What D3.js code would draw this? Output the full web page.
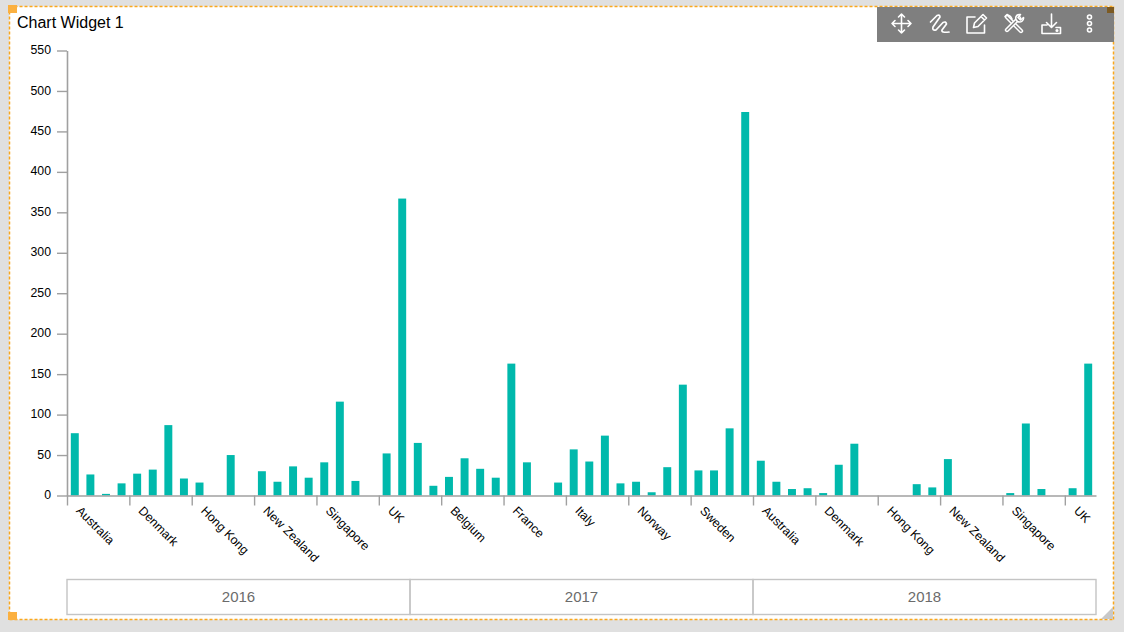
<!DOCTYPE html>
<html><head><meta charset="utf-8">
<script src="https://cdn.jsdelivr.net/npm/d3@7/dist/d3.min.js"></script>
<style>
html,body{margin:0;padding:0;background:#e0e0e0;overflow:hidden}
svg{display:block;font-family:"Liberation Sans",Arial,sans-serif}
</style></head><body>
<svg id="c" width="1124" height="632"></svg>
<script>
const categories=["Australia","Denmark","Hong Kong","New Zealand","Singapore","UK","Belgium","France","Italy","Norway","Sweden","Australia","Denmark","Hong Kong","New Zealand","Singapore","UK"];
const years=["2016","2017","2018"];
const values=[77,26,2,15, 27,32,87,21, 16,0,50,0, 30,17,36,22, 41,116,18,0, 52,367,65,12,
 23,46,33,22, 163,41,0,16, 57,42,74,15, 17,4,35,137, 31,31,83,474,
 43,17,8,9, 3,38,64,0, 0,0,14,10, 45,0,0,0, 3,89,8,0, 9,163];
const yTicks=d3.range(0,551,50);
const slotsPerCategory=4, slotsPerYear=22;
const teal="#00b9ac", axisGrey="#a0a0a0", orange="#fba71b";
const svg=d3.select("#c");
// widget
svg.append("rect").attr("x",9.5).attr("y",6.5).attr("width",1104).attr("height",613).attr("fill","#fff");
const b=svg.append("g").attr("fill","none").attr("stroke",orange).attr("stroke-width",1.5).attr("stroke-dasharray","3,2");
b.append("path").attr("d","M9.5 6.5H1113.5");
b.append("path").attr("d","M9.5 619.5H1113.5");
b.append("path").attr("d","M9.5 6.500V619.5");
b.append("path").attr("d","M1113.5 6.500V619.5");
svg.append("rect").attr("x",8).attr("y",5).attr("width",9).attr("height",8).attr("fill","#fbb040");
svg.append("rect").attr("x",8).attr("y",612).attr("width",9).attr("height",8).attr("fill","#fbb040");
svg.append("path").attr("d","M1113 607V619H1101Z").attr("fill","#c8c8c8");
svg.append("text").attr("x",17).attr("y",28).attr("font-size",16).attr("fill","#000").text("Chart Widget 1");

const x=d3.scaleLinear().domain([0,values.length]).range([67,1096]);
const y=d3.scaleLinear().domain([0,550]).range([495.5,50.5]);
const band=d3.scaleBand().domain(d3.range(values.length)).range([67,1096]).paddingInner(.49).paddingOuter(.245);

svg.append("g").selectAll("rect").data(values).join("rect")
 .attr("x",(d,i)=>band(i)).attr("width",band.bandwidth())
 .attr("y",d=>y(d)).attr("height",d=>y(0)-y(d)).attr("fill",teal);

const ya=svg.append("g").attr("transform","translate(67,0)")
 .call(d3.axisLeft(y).tickValues(yTicks).tickSize(10).tickPadding(6).tickSizeOuter(0));
ya.selectAll("text").attr("font-size",12.3).attr("font-family","inherit").attr("fill","#000").attr("dy","0.25em");
ya.selectAll(".tick line").attr("stroke",axisGrey).attr("stroke-width",1.4);
ya.select(".domain").attr("stroke",axisGrey).attr("stroke-width",1.6);

const xTicks=categories.map((c,i)=>i*slotsPerCategory);
const xa=svg.append("g").attr("transform","translate(0,495.5)")
 .call(d3.axisBottom(x).tickValues(xTicks).tickSize(10).tickSizeOuter(0).tickFormat((d,i)=>categories[i]));
xa.selectAll(".tick text").attr("font-size",12.3).attr("font-family","inherit").attr("fill","#000")
 .attr("text-anchor","start").attr("x",0).attr("y",0).attr("dy",0)
 .attr("transform","translate(8,16) rotate(45)");
xa.selectAll(".tick line").attr("stroke",axisGrey).attr("stroke-width",1.4);
xa.select(".domain").attr("stroke",axisGrey).attr("stroke-width",1.5);

// year boxes
const g=svg.append("g");
years.forEach((yr,i)=>{
 const a=x(i*slotsPerYear),e=x((i+1)*slotsPerYear);
 g.append("rect").attr("x",a).attr("y",579.5).attr("width",e-a).attr("height",35)
  .attr("fill","none").attr("stroke","#c4c4c4").attr("stroke-width",1.4);
 g.append("text").attr("x",(a+e)/2).attr("y",602).attr("text-anchor","middle").attr("font-size",15).attr("fill","#6b6b6b").text(yr);
});

// toolbar
svg.append("rect").attr("x",877).attr("y",7).attr("width",237).attr("height",35).attr("fill","#7f7f7f");
svg.append("rect").attr("x",1107).attr("y",7).attr("width",7).attr("height",6).attr("fill","#7c5a22");
const ic=svg.append("g").attr("fill","none").attr("stroke","#fff").attr("stroke-width",1.6).attr("stroke-linecap","round").attr("stroke-linejoin","round");
ic.append("path").attr("d","M901.5 14V33M892 23.5H911M898.5 17L901.5 14L904.500 17M898.5 30L901.5 33L904.500 30M895 20.5L892 23.5L895 26.5M908 20.5L911 23.5L908 26.5");
ic.append("path").attr("stroke-width",1.7).attr("d","M930.500 22L937 15.500Q940 14.500 940 17L933 27Q932 31 936 30L943 22.500Q946 21 946.500 24L942 30Q941 33 949 32");
ic.append("path").attr("d","M975 17H967V33H984.500V25M973.500 27.500L974.500 23L983 14.500L986.500 18L978 26.500ZM981 16.500L984.500 20");
const tools=["M1007 17L1021 31","M1019 18L1007 30"];
tools.forEach(p=>{
 ic.append("path").attr("d",p).attr("stroke-width",4.4);
 ic.append("path").attr("d",p).attr("stroke-width",1.4).attr("stroke","#7f7f7f");
});
ic.append("path").attr("d","M1023.500 17.500C1024 21 1020.500 23 1017.500 21.500L1016 19.500C1015 16.500 1017 14 1020.500 14.500L1018 17.500L1020.500 20Z").attr("fill","#7f7f7f");
ic.append("path").attr("d","M1005 16.500L1007 14.500L1010.500 16.500L1012 19").attr("stroke-width",1.5);
ic.append("path").attr("d","M1051.500 14V27M1046.500 22.500L1051.500 27.500L1056.500 22.500M1047 25H1042V33.500H1060.500V27.500H1056");
ic.append("circle").attr("cx",1057).attr("cy",30.500).attr("r",.8);
ic.append("g").attr("stroke-width",1.6).selectAll("circle").data([17,23.500,30]).join("circle").attr("cx",1089.500).attr("cy",d=>d).attr("r",2);
</script>
</body></html>
